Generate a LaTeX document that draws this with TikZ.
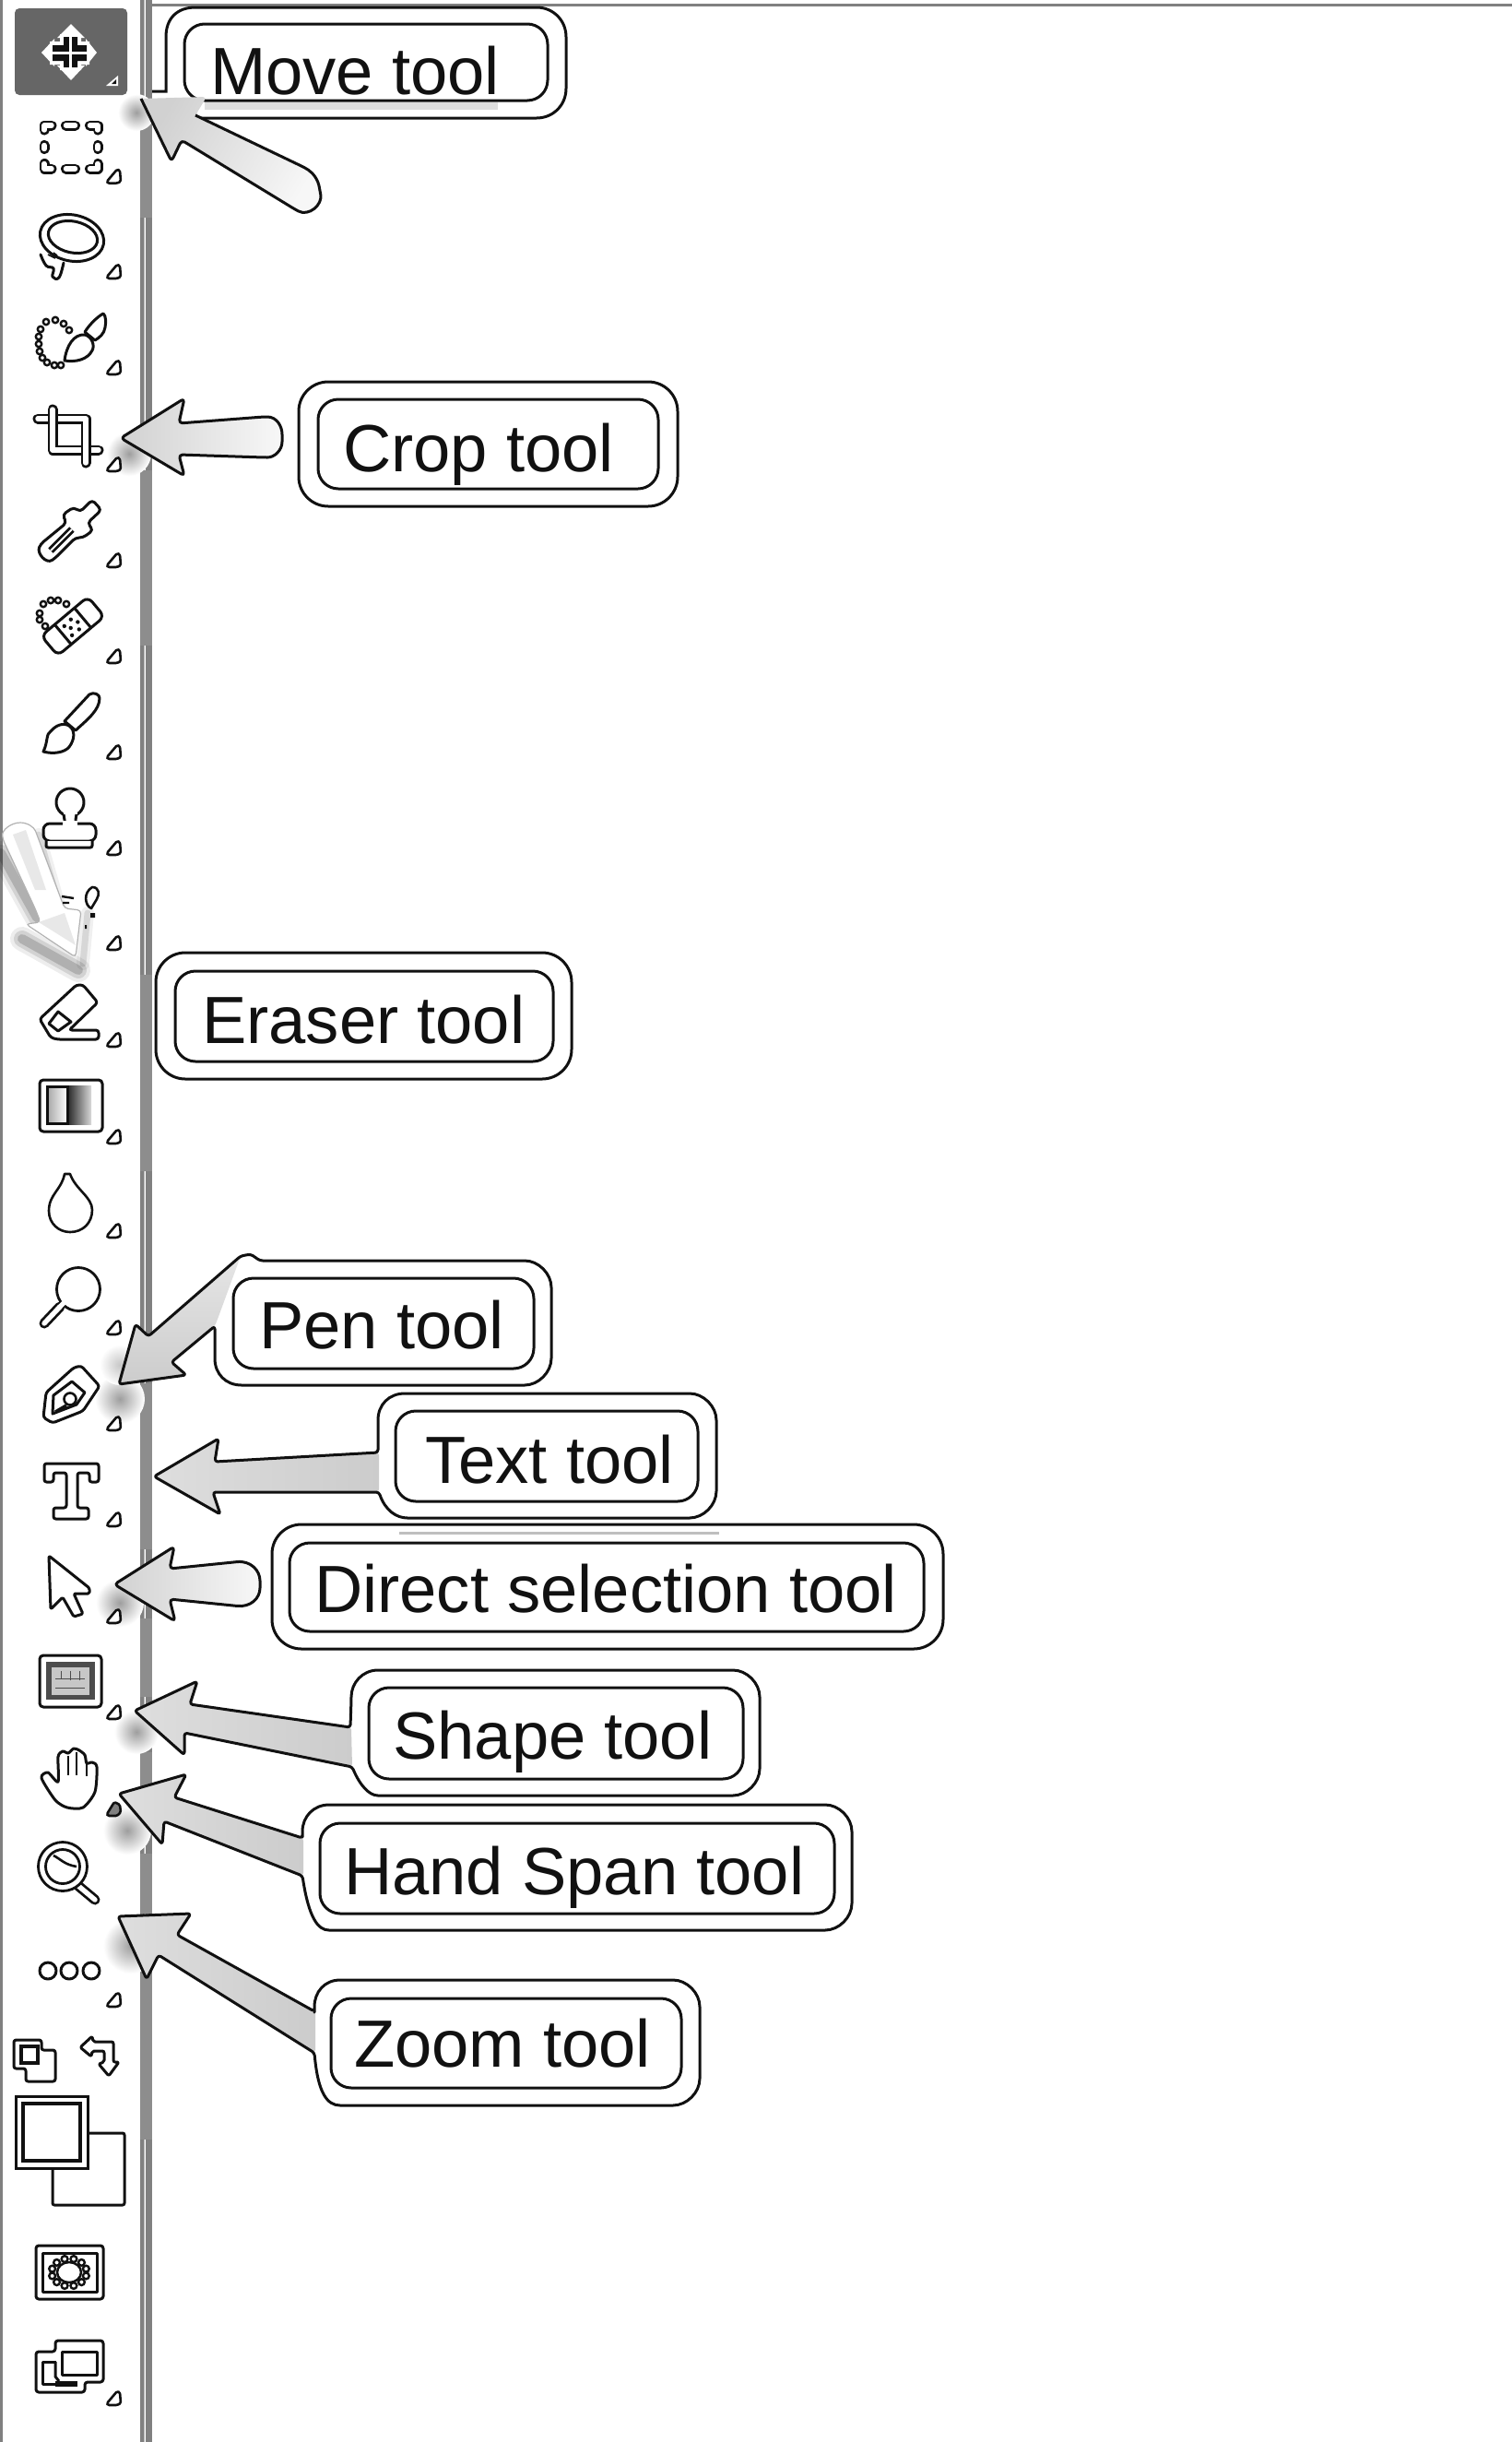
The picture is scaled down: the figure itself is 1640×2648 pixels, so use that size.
\documentclass[tikz,border=0pt]{standalone}
\usepackage{fontspec}
\setmainfont{Liberation Sans}
\usetikzlibrary{shadings}
\definecolor{ink}{HTML}{111111}
\definecolor{dv}{HTML}{808080}
\tikzset{
 ic/.style={draw=ink,line width=3pt,fill=white,line join=round,line cap=round},
 icd/.style={draw=ink,line width=2.8pt,double=white,double distance=5.4pt,line cap=round,line join=round},
 icb/.style={draw=ink,line width=2.8pt,double=white,double distance=5.4pt,line cap=butt},
 bead/.style={draw=ink,line width=2.4pt,fill=white},
 trisel/.style={draw=ink,line width=2.6pt,fill=white,line join=round,rounded corners=1.5pt},
 box/.style={draw=ink,line width=3pt,fill=white},
 outerb/.style={box,rounded corners=32pt},
 innerb/.style={box,rounded corners=22pt},
 lbl/.style={inner sep=0pt,anchor=base west,text=ink,font=\fontsize{72.4}{80}\selectfont},
 arrowline/.style={draw=ink,line width=3pt,line join=round},
 arrowfill/.style={left color=black!13,middle color=black!5,right color=black!20},
 tailfill/.style={left color=black!18,right color=black!3},
 halo/.style={inner color=black!38,outer color=white},
}
\newcommand\rside[3]{-- ({#2-32},#1) .. controls ({#2-14},#1) and (#2,{#1+14}) .. (#2,{#1+32}) -- (#2,{#3-32}) .. controls (#2,{#3-14}) and ({#2-14},#3) .. ({#2-32},#3)}
\begin{document}
\begin{tikzpicture}[x=1pt,y=-1pt]
\useasboundingbox (0,0) rectangle (1640,2648);
\fill[white] (0,0) rectangle (1640,2648);
% window frame
\fill[dv] (0,0) rectangle (2.6,2648);
\fill[dv] (152,0) rectangle (156,2648);
\fill[dv!55] (156,0) rectangle (157,2648);
\fill[dv] (157.5,0) rectangle (165,2648);
\foreach \a/\b in {108/236,510/700,1057/1270,1500/1680,1755/1840,1900/1990,2010/2075,2140/2320}
  \fill[dv!90] (152,\a) rectangle (165,\b);
\fill[dv] (165,4) rectangle (1640,7);
% halos around the arrow tips
\foreach \x/\y/\r in {148/122/20,140/492/24,130/1517/27,130/1738/26,148/1878/24,138/1985/26,142/2110/30}
  \shade[halo] (\x,\y) circle[radius=\r];
\shade[inner color=black!22,outer color=white] (130,1480) circle[radius=22];

% --- labels without joined arrows
\draw[outerb] (324,414) rectangle (735,549);
\draw[innerb] (345,433) rectangle (714,530);
\node[lbl] (tcrop) at (372,511) {Crop tool};
\draw[outerb] (169,1033) rectangle (620,1170);
\draw[innerb] (190,1053) rectangle (600,1151);
\node[lbl] (teraser) at (219,1131) {Eraser tool};
\draw[outerb] (295,1653) rectangle (1023,1788);
\draw[innerb] (314,1673) rectangle (1002,1769);
\fill[black!25] (433,1661) rectangle (780,1664);
\node[lbl] (tdirect) at (341,1748) {Direct selection tool};

% Move tool
\draw[box,fill=white] (165,99) -- (180,99) -- (180,40) .. controls (180,20) and (192,8) .. (212,8) \rside{8}{614}{128} -- (212,128);
\draw[innerb] (200,26) rectangle (594,109);
\fill[black!13] (222,111) rectangle (540,119);
\node[lbl] (tmove) at (228,102) {Move tool};
\path[tailfill,shading angle=60,rounded corners=4pt] (153,107) -- (186,175) -- (197,152) -- (320,227) .. controls (335,235) and (350,222) .. (347,207) .. controls (345,195) and (340,188) .. (331,182) -- (212,125) -- (224,105) -- cycle;
\draw[arrowline,rounded corners=4pt] (153,107) -- (186,175) -- (197,152) -- (320,227) .. controls (335,235) and (350,222) .. (347,207) .. controls (345,195) and (340,188) .. (331,182) -- (212,125);
% Crop arrow
\draw[arrowline,tailfill,rounded corners=4pt] (131,475) -- (200,432) -- (194,459) -- (286,452) .. controls (300,452) and (306,462) .. (306,475) .. controls (306,488) and (298,496) .. (286,496) -- (194,493) -- (200,516) -- cycle;
% Direct arrow
\draw[arrowline,tailfill,rounded corners=4pt] (124,1718) -- (189,1677) -- (184,1701) -- (253,1694) .. controls (272,1692) and (282,1703) .. (282,1718) .. controls (282,1733) and (272,1743) .. (253,1741) -- (184,1734) -- (190,1758) -- cycle;

% Pen (outline shared by arrow and box)
\def\penpath{(129,1501) -- (147,1436) -- (161,1449) -- (261,1362) -- (272,1360) -- (282,1367) \rside{1367}{598}{1502} -- (265,1502) .. controls (245,1502) and (233,1490) .. (233,1470) -- (233,1438) -- (186,1477) -- (202,1491) -- cycle}
\fill[white] \penpath;
\path[left color=black!10,right color=black!20,shading angle=0,rounded corners=3pt] (129,1501) -- (147,1436) -- (161,1449) -- (261,1362) -- (238,1425) -- (233,1438) -- (186,1477) -- (202,1491) -- cycle;
\draw[arrowline,rounded corners=3pt] \penpath;
\draw[innerb] (253,1386) rectangle (579,1484);
\node[lbl] (tpen) at (281,1462) {Pen tool};

% Text
\def\textpath{(167,1601) -- (237,1560) -- (233,1585) -- (410,1575) -- (410,1543) .. controls (410,1523) and (422,1511) .. (442,1511) \rside{1511}{777}{1646} -- (445,1646) .. controls (430,1646) and (418,1638) .. (411,1618) -- (231,1618) -- (239,1642) -- cycle}
\fill[white] \textpath;
\path[arrowfill,rounded corners=3pt] (167,1601) -- (237,1560) -- (233,1585) -- (411,1575) -- (411,1618) -- (231,1618) -- (239,1642) -- cycle;
\draw[arrowline,rounded corners=3pt] \textpath;
\draw[innerb] (429,1530) rectangle (757,1628);
\node[lbl] (ttext) at (461,1608) {Text tool};

% Shape
\def\shapepath{(146,1855) -- (214,1823) -- (206,1848) -- (380,1873) -- (381,1843) .. controls (381,1825) and (393,1811) .. (413,1811) \rside{1811}{824}{1947} -- (413,1947) .. controls (400,1947) and (390,1935) .. (382,1916) -- (200,1879) -- (200,1903) -- cycle}
\fill[white] \shapepath;
\path[arrowfill,rounded corners=3pt] (146,1855) -- (214,1823) -- (206,1848) -- (381,1873) -- (382,1916) -- (200,1879) -- (200,1903) -- cycle;
\draw[arrowline,rounded corners=3pt] \shapepath;
\draw[innerb] (400,1830) rectangle (806,1929);
\node[lbl] (tshape) at (426,1907) {Shape tool};

% Hand
\def\handpath{(129,1945) -- (202,1924) -- (189,1949) -- (328,1993) -- (328,1989) .. controls (328,1970) and (340,1957) .. (360,1957) \rside{1957}{924}{2093} -- (360,2093) .. controls (345,2093) and (335,2080) .. (328,2034) -- (178,1975) -- (176,2000) -- cycle}
\fill[white] \handpath;
\path[arrowfill,rounded corners=3pt] (129,1945) -- (202,1924) -- (189,1949) -- (329,1993) -- (329,2034) -- (178,1975) -- (176,2000) -- cycle;
\draw[arrowline,rounded corners=3pt] \handpath;
\draw[innerb] (347,1977) rectangle (905,2075);
\node[lbl] (thand) at (373,2054) {Hand Span tool};

% Zoom
\def\zoompath{(128,2078) -- (207,2075) -- (192,2098) -- (341,2181) -- (341,2179) .. controls (341,2160) and (352,2147) .. (372,2147) \rside{2147}{759}{2283} -- (372,2283) .. controls (355,2283) and (345,2270) .. (341,2226) -- (172,2120) -- (159,2146) -- cycle}
\fill[white] \zoompath;
\path[arrowfill,rounded corners=3pt] (128,2078) -- (207,2075) -- (192,2098) -- (342,2181) -- (342,2226) -- (172,2120) -- (159,2146) -- cycle;
\draw[arrowline,rounded corners=3pt] \zoompath;
\draw[innerb] (359,2167) rectangle (739,2264);
\node[lbl] (tzoom) at (384,2241) {Zoom tool};

% --- small flyout triangles
\foreach \y in {190.7,294,398,503,607,711,815,919,1022,1127,1232,1334,1439,1543,1647,1752,1856,2168,2600}
  \draw[trisel,shift={(0,\y)}] (116,6) -- (127,-7) -- (130,-6) -- (131,6) -- (127,8) -- (117,8) -- cycle;
\draw[trisel,fill=black!50,shift={(0,1961)}] (116,6) -- (124,-7) -- (130,-4) -- (131,4) -- (127,8) -- (117,8) -- cycle;

% --- toolbar icons
% move
\fill[black!60,rounded corners=5pt] (16,9) rectangle (138,103);
\fill[white] (77,26) -- (92,41) -- (62,41) -- cycle (77,87) -- (92,71) -- (62,71) -- cycle (45,57) -- (59,42) -- (59,72) -- cycle (105,57) -- (93,42) -- (93,72) -- cycle;
\fill[white] (65,37) rectangle (88,76) (54,45) rectangle (97,70);
\fill[ink] (69,40) rectangle (84,73) (57,49) rectangle (94,66);
\draw[white,line width=3pt] (76.5,38) -- (76.5,75) (55,57.5) -- (96,57.5);
\fill[white] (115,93) -- (128,82) -- (128,93) -- cycle;
\fill[ink] (121,91) -- (126,86) -- (126,91) -- cycle;
% marquee
\foreach \p in {{(48,141)--(48,136)--(56,136)},{(71.5,136)--(81.5,136)},{(97.5,136)--(106,136)--(106,141)},{(48,157.5)--(48,161.5)},{(106,157.5)--(106,161.5)},{(48,177.5)--(48,183)--(56,183)},{(71.5,183)--(81.5,183)},{(97.5,183)--(106,183)--(106,177.5)}}
  \draw[icd] \p;
% lasso
\draw[ic,rotate around={-12:(78,258)}] (78,258) ellipse[x radius=35,y radius=25];
\draw[ic,rotate around={-12:(79,257)}] (79,257) ellipse[x radius=27,y radius=17];
\draw[ic] plot[smooth,tension=.7] coordinates {(44,276) (50,288) (58,291) (57,300) (64,301) (69,285)};
\draw[ink,line width=1.6pt] (52,276) -- (60,280) (58,274) -- (62,277);
% lasso+brush
\foreach \x/\y in {75/358,69/351,60/347,50/349,44/357,42/365,42/373,43/381,46/388,51/393,59/396,66/396}
  \draw[bead] (\x,\y) circle[radius=3.2];
\draw[ic] (70,391) .. controls (72,375) and (80,362) .. (92,363) .. controls (100,365) and (103,375) .. (100,380) .. controls (95,390) and (82,393) .. (70,391) -- cycle;
\draw[ic] (92,360) .. controls (97,352) and (105,344) .. (112,340) .. controls (115,342) and (115,350) .. (114,355) .. controls (113,362) and (108,366) .. (103,369) -- cycle;
% crop
\draw[icd] (57,444) -- (57,488) -- (107,488);
\draw[icd] (41,454) -- (93,454) -- (93,502);
\draw[icb] (57,446) -- (57,462);
% eyedropper
\draw[ic,rounded corners=4pt] (44,590) .. controls (40,600) and (50,612) .. (60,605) -- (82,583) -- (90,583) -- (101,575) -- (95,567) -- (110,553) -- (100,542) -- (87,555) -- (80,550) -- (68,558) -- (72,567) -- cycle;
\draw[icb,double distance=2pt] (55,597) -- (78,574);
% healing
\foreach \x/\y in {72/655,63/651,55/651,47/655,43/665,43/672,49/679}
  \draw[bead] (\x,\y) circle[radius=3.2];
\begin{scope}[shift={(79,679)},rotate=40]
 \draw[ic,rounded corners=7pt] (-33,-14) rectangle (33,14);
 \draw[ink,line width=3pt] (-14,-14) -- (-14,14) (14,-14) -- (14,14);
 \foreach \a/\b in {-7/-6,3/-7,-3/0,7/0,-7/7,3/7}
   \fill[ink] (\a,\b) circle[radius=2.2];
\end{scope}
% brush
\draw[ic] (47,815) .. controls (52,805) and (50,795) .. (55,793) .. controls (60,787) and (68,783) .. (75,787) .. controls (82,792) and (81,802) .. (75,810) .. controls (70,816) and (58,818) .. (47,815) -- cycle;
\draw[ic] (70,782) -- (97,753) .. controls (102,750) and (108,753) .. (108,757) .. controls (108,770) and (95,780) .. (82,792) -- cycle;
% stamp
\draw[ic] (76,870) circle[radius=15];
\fill[white] (69,880) rectangle (84,896);
\draw[ink,line width=3pt] (69,883) -- (70,889) -- (70,893) (83,883) -- (82,889) -- (82,893);
\draw[ic,rounded corners=7pt] (70,893) -- (47,893) -- (47,912) -- (104,912) -- (104,893) -- (82,893);
\fill[white] (68,890) rectangle (84,896);
\draw[ic,rounded corners=2pt] (50,912) -- (50,919) -- (100,919) -- (100,912);
% ghost arrow over colour replacement
\foreach \w/\o in {26/.07,18/.11,10/.16}{
  \draw[black,opacity=\o,line width=\w pt,line cap=round] (1,925) -- (40,995);
  \draw[black,opacity=\o,line width=\w pt,line cap=round] (24,1018) -- (85,1052);
}
\foreach \w/\o in {14/.06,7/.1}{
  \draw[black,opacity=\o,line width=\w pt,line cap=round] (90,1045) -- (95,990);
  \draw[black,opacity=\o,line width=\w pt,line cap=round] (65,985) -- (42,905);
}
\draw[black!30,line width=1.2pt,fill=white,rounded corners=4pt] (22,892) .. controls (12,892) and (2,900) .. (3,910) -- (38,985) -- (44,1000) -- (28,1002) -- (82,1038) -- (88,987) -- (70,985) -- (40,905) .. controls (37,897) and (30,892) .. (22,892);
\fill[black!9] (14,905) -- (28,900) -- (50,965) -- (38,965) -- cycle;
\fill[black!9] (42,1000) -- (70,990) -- (82,1025) -- cycle;
\draw[ink,line width=2.4pt] (67,972) -- (80,974) (68,979) -- (75,979);
\draw[ic,line width=2.6pt] (100,962) .. controls (108,962) and (108,970) .. (105,975) -- (99,985) .. controls (92,982) and (90,968) .. (100,962) -- cycle;
\fill[ink] (98,990) rectangle (103,995) (92,1003) rectangle (94,1007);
% eraser
\draw[ic,rounded corners=3pt] (43,1105) -- (83,1068) -- (90,1068) -- (106,1087) -- (75,1117) -- (107,1117) -- (107,1127) -- (62,1127) -- (55,1125) -- cycle;
\draw[ic] (53,1110) -- (63,1097) -- (77,1108) -- (63,1118) -- cycle;
% gradient
\draw[ic,rounded corners=4pt] (43,1171) rectangle (111,1227);
\shade[left color=black!85,right color=black!15] (73,1177) rectangle (99,1219);
\draw[ink,line width=3pt,left color=black!35,right color=white] (51,1178) rectangle (73,1218);
% blur
\draw[ic,line width=2.6pt] (70,1273) -- (76,1273) .. controls (82,1290) and (100,1298) .. (100,1312) .. controls (100,1326) and (90,1336) .. (76,1336) .. controls (64,1336) and (53,1327) .. (53,1313) .. controls (53,1295) and (67,1290) .. (70,1273) -- cycle;
% dodge
\draw[icd] (65,1417) -- (48,1435);
\draw[ic,line width=2.8pt] (85,1398) circle[radius=23.5];
\draw[white,line width=5pt] (62,1420) -- (71,1411);
% pen
\draw[ic,rounded corners=3pt] (47,1537) -- (50,1510) -- (80,1483) -- (88,1481) -- (108,1503) -- (90,1530) -- (57,1543) -- cycle;
\draw[ink,line width=3pt,line join=round] (57,1533) -- (58,1513) -- (78,1498) -- (92,1510) -- (83,1523) -- cycle;
\draw[ic,line width=2.6pt] (76,1517) circle[radius=6.5];
\draw[ink,line width=3.5pt] (60,1531) -- (72,1524);
% text
\draw[ic,rounded corners=2.5pt] (48,1587) -- (107,1587) -- (107,1607) -- (97,1607) -- (97,1597) -- (84,1597) -- (84,1635) -- (96,1635) -- (96,1647) -- (58,1647) -- (58,1635) -- (72,1635) -- (72,1597) -- (58,1597) -- (58,1607) -- (48,1607) -- cycle;
% cursor
\draw[ic,rounded corners=1.5pt] (53,1687) -- (97,1722) -- (97,1728) -- (80,1728) -- (90,1750) -- (80,1753) -- (68,1732) -- (55,1745) -- cycle;
% shape
\draw[ic,rounded corners=4pt] (43,1795) rectangle (110,1851);
\fill[black!70] (50,1802) rectangle (103,1843);
\fill[black!22] (56,1808) rectangle (97,1838);
\draw[black!70,line width=1pt] (60,1820) -- (92,1820) (60,1830) -- (92,1830) (66,1820) -- (66,1812) (76,1822) -- (76,1812) (86,1822) -- (86,1812);
% hand
\draw[ic,line join=round] plot[smooth cycle,tension=.45] coordinates {(45,1928) (52,1922) (63,1932) (63,1905) (68,1899) (74,1901) (80,1896) (86,1898) (92,1903) (94,1912) (100,1911) (105,1916) (103,1943) (90,1960) (73,1960) (60,1952)};
\draw[ink,line width=2.8pt] (74,1904) -- (74,1925) (83,1900) -- (83,1925) (94,1912) -- (94,1926);
% zoom icon
\draw[icd] (85,2045) -- (103,2060);
\draw[ic,line width=2.8pt] (68,2024) circle[radius=26.5];
\draw[ic,line width=2.8pt] (68,2024) circle[radius=18.5];
\draw[ink,line width=2.6pt] (58,2012) .. controls (66,2016) and (70,2022) .. (83,2024);
% three dots
\foreach \x in {52,75,99}
  \draw[ic] (\x,2137) circle[radius=9];
% default colours
\draw[ic,rounded corners=2.5pt] (15,2212) -- (45,2212) -- (45,2223) -- (60,2223) -- (60,2257) -- (28,2257) -- (28,2243) -- (15,2243) -- cycle;
\draw[draw=ink,fill=white,line width=4.5pt] (23,2219) rectangle (41,2237);
% swap
\draw[ic,rounded corners=2pt] (87,2220) -- (100,2208) -- (101,2214) -- (123,2214) -- (123,2236) -- (129,2236) -- (118,2251) -- (107,2238) -- (113,2236) -- (113,2224) -- (100,2224) -- (99,2230) -- cycle;
% fg/bg
\draw[ic,rounded corners=2pt] (57,2313) rectangle (135,2391);
\draw[ic,line join=miter] (17,2273) rectangle (95,2351);
\draw[draw=ink,fill=white,line width=4.5pt] (25,2281) rectangle (87,2343);
% quick mask
\draw[ic,rounded corners=3pt] (39,2435) rectangle (112,2493);
\draw[ic] (46,2443) rectangle (105,2485);
\foreach \a in {15,45,...,345}
  \draw[bead] ({75+19*cos(\a)},{2464+15*sin(\a)}) circle[radius=3.4];
\draw[ink,line width=2.5pt,fill=white] (75,2464) ellipse[x radius=13,y radius=11];
% screen mode
\draw[ic,rounded corners=3pt] (60,2538) -- (112,2538) -- (112,2583) -- (92,2583) -- (92,2594) -- (39,2594) -- (39,2550) -- (60,2550) -- cycle;
\draw[ic] (67,2550) rectangle (105,2575);
\draw[ink,line width=3pt,line join=round] (61,2561) -- (46,2561) -- (46,2585) -- (62,2585);
\draw[ink,line width=6pt] (60,2585) -- (84,2585);
\draw[ink,line width=3pt] (60,2561) -- (60,2577) -- (64,2582);
\end{tikzpicture}
\end{document}
